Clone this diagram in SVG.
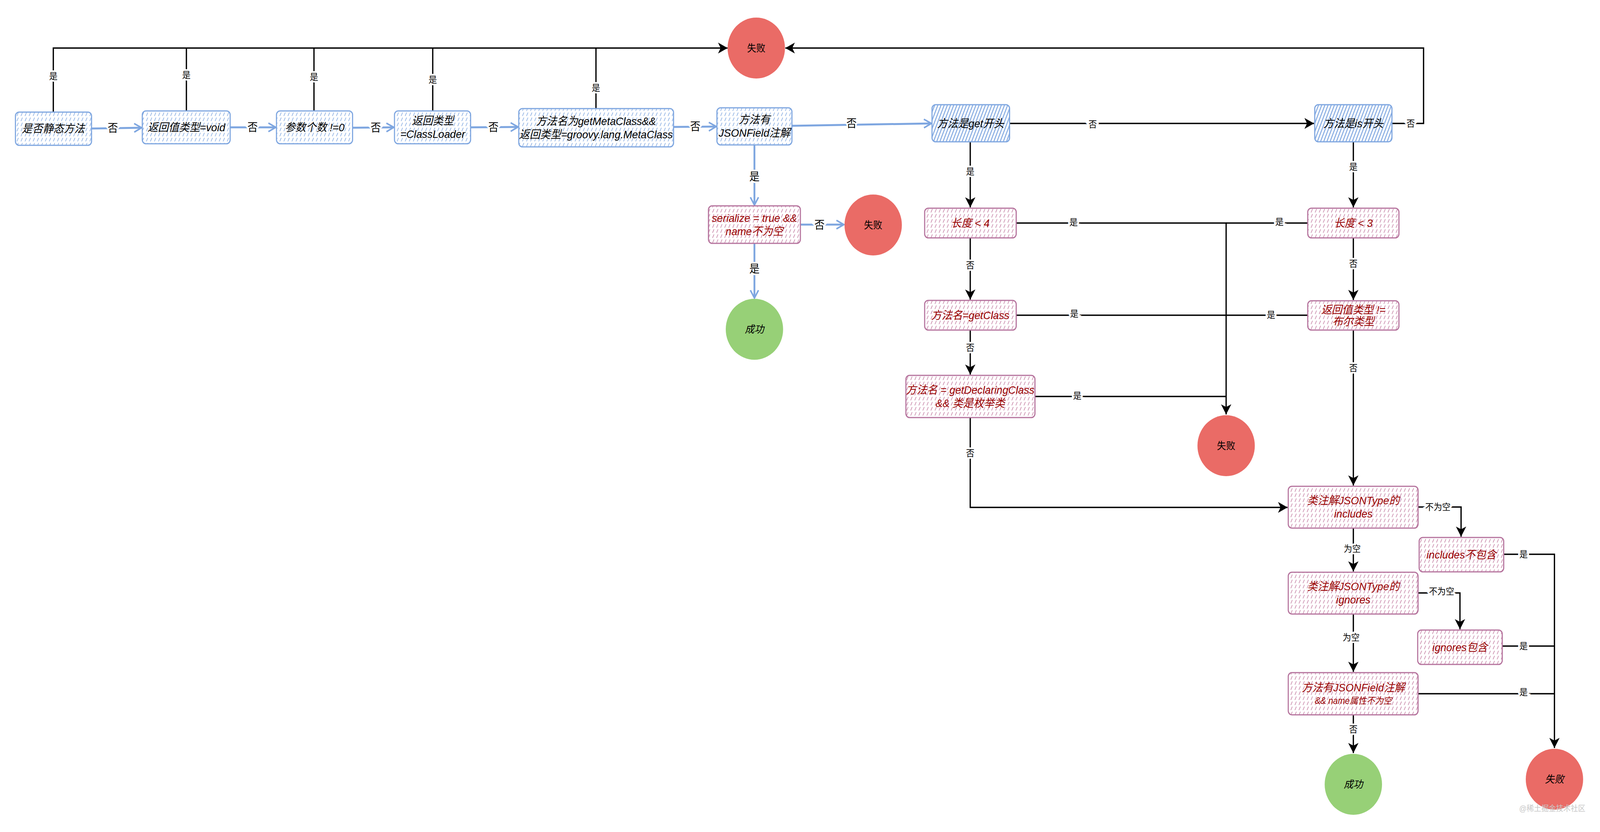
<svg xmlns="http://www.w3.org/2000/svg" width="4352" height="2130" viewBox="0 0 4352 2130">
<style>
.nb rect{fill:url(#dB);stroke:#7EA6E0;stroke-width:3}
.nh rect{fill:url(#hB);stroke:#7EA6E0;stroke-width:3}
.np rect{fill:url(#dP);stroke:#B5739D;stroke-width:3}
.t{font-family:"Liberation Sans","Noto Sans CJK SC",sans-serif;font-size:28.5px;font-style:italic;text-anchor:middle;dominant-baseline:central;fill:#000}
.tr{fill:#990000}
.tn{font-style:normal}
.lbl{font-family:"Liberation Sans","Noto Sans CJK SC",sans-serif;font-size:23px;text-anchor:middle;dominant-baseline:central;fill:#000;stroke:#fff;stroke-width:9;paint-order:stroke}
.lb{font-size:28px}
.e{fill:none;stroke:#000;stroke-width:3.5}
.eb{fill:none;stroke:#7EA6E0;stroke-width:5}
.fail{fill:#EA6B66}
.ok{fill:#97D077}
</style>
<defs>
<pattern id="dB" width="11" height="13" patternUnits="userSpaceOnUse"><path d="M2,11 L6,2" stroke="#7EA6E0" stroke-width="1.6"/></pattern>
<pattern id="dP" width="11" height="13" patternUnits="userSpaceOnUse"><path d="M2,11 L6,2" stroke="#C27BA0" stroke-width="1.6"/></pattern>
<pattern id="hB" width="8" height="8" patternUnits="userSpaceOnUse" patternTransform="rotate(22)"><line x1="2" y1="0" x2="2" y2="8" stroke="#7EA6E0" stroke-width="2.6"/></pattern>
<marker id="ak" viewBox="0 0 26 28" refX="26" refY="14" markerWidth="26" markerHeight="28" markerUnits="userSpaceOnUse" orient="auto"><path d="M0,0 L26,14 L0,28 L7,14 z" fill="#000"/></marker>
<marker id="ab" viewBox="0 0 24 26" refX="22" refY="13" markerWidth="24" markerHeight="26" markerUnits="userSpaceOnUse" orient="auto"><path d="M2,2 L22,13 L2,24" fill="none" stroke="#7EA6E0" stroke-width="4"/></marker>
</defs>
<g id="diagram" transform="scale(0.9412,1)">
<g id="connectors">
<path class="e" d="M145,287 V123 H1979" marker-end="url(#ak)"/>
<path class="e" d="M507,284 V123"/>
<path class="e" d="M854,284 V123"/>
<path class="e" d="M1177,284 V123"/>
<path class="e" d="M1621,278 V123"/>
<path class="e" d="M3786,316 H3872 V123 H2136" marker-end="url(#ak)"/>
<path class="eb" d="M249,329 L385,327" marker-end="url(#ab)"/>
<path class="eb" d="M626,326 L750,326" marker-end="url(#ab)"/>
<path class="eb" d="M959,327 L1071,326" marker-end="url(#ab)"/>
<path class="eb" d="M1280,326 L1409,325" marker-end="url(#ab)"/>
<path class="eb" d="M1832,325 L1948,324" marker-end="url(#ab)"/>
<path class="eb" d="M2154,322 L2533,316" marker-end="url(#ab)"/>
<path class="eb" d="M2052,371 V525" marker-end="url(#ab)"/>
<path class="eb" d="M2177,575 H2295" marker-end="url(#ab)"/>
<path class="eb" d="M2052,623 V763" marker-end="url(#ab)"/>
<path class="e" d="M2746,316 H3574" marker-end="url(#ak)"/>
<path class="e" d="M2639,363 V531" marker-end="url(#ak)"/>
<path class="e" d="M3681,363 V531" marker-end="url(#ak)"/>
<path class="e" d="M2639,609 V767" marker-end="url(#ak)"/>
<path class="e" d="M2639,845 V959" marker-end="url(#ak)"/>
<path class="e" d="M2764,571 H3335 V1061" marker-end="url(#ak)"/>
<path class="e" d="M3557,571 H3335"/>
<path class="e" d="M2764,807 H3335"/>
<path class="e" d="M3557,807 H3335"/>
<path class="e" d="M2815,1015 H3335"/>
<path class="e" d="M2639,1069 V1299 H3502" marker-end="url(#ak)"/>
<path class="e" d="M3681,609 V768" marker-end="url(#ak)"/>
<path class="e" d="M3681,845 V1243" marker-end="url(#ak)"/>
<path class="e" d="M3857,1298 H3974 V1374" marker-end="url(#ak)"/>
<path class="e" d="M3681,1352 V1463" marker-end="url(#ak)"/>
<path class="e" d="M3857,1518 H3971 V1611" marker-end="url(#ak)"/>
<path class="e" d="M3681,1572 V1720" marker-end="url(#ak)"/>
<path class="e" d="M3681,1830 V1928" marker-end="url(#ak)"/>
<path class="e" d="M4090,1419 H4228 V1915" marker-end="url(#ak)"/>
<path class="e" d="M4086,1654 H4228"/>
<path class="e" d="M3857,1776 H4228"/>

<text class="lbl" x="145" y="195">是</text>
<text class="lbl" x="507" y="192">是</text>
<text class="lbl" x="854" y="197">是</text>
<text class="lbl" x="1177" y="204">是</text>
<text class="lbl" x="1621" y="225">是</text>
<text class="lbl" x="3837" y="316">否</text>
<text class="lbl lb" x="307" y="328">否</text>
<text class="lbl lb" x="687" y="326">否</text>
<text class="lbl lb" x="1022" y="327">否</text>
<text class="lbl lb" x="1342" y="326">否</text>
<text class="lbl lb" x="1891" y="324">否</text>
<text class="lbl lb" x="2316" y="316">否</text>
<text class="lbl lb" x="2052" y="452">是</text>
<text class="lbl lb" x="2229" y="576">否</text>
<text class="lbl lb" x="2052" y="688">是</text>
<text class="lbl" x="2972" y="318">否</text>
<text class="lbl" x="2639" y="439">是</text>
<text class="lbl" x="3681" y="427">是</text>
<text class="lbl" x="2639" y="679">否</text>
<text class="lbl" x="2639" y="890">否</text>
<text class="lbl" x="2920" y="569">是</text>
<text class="lbl" x="3480" y="568">是</text>
<text class="lbl" x="2922" y="803">是</text>
<text class="lbl" x="3457" y="806">是</text>
<text class="lbl" x="2930" y="1013">是</text>
<text class="lbl" x="2639" y="1160">否</text>
<text class="lbl" x="3681" y="675">否</text>
<text class="lbl" x="3681" y="942">否</text>
<text class="lbl" x="3911" y="1298">不为空</text>
<text class="lbl" x="3678" y="1405">为空</text>
<text class="lbl" x="3921" y="1514">不为空</text>
<text class="lbl" x="3675" y="1632">为空</text>
<text class="lbl" x="3681" y="1867">否</text>
<text class="lbl" x="4144" y="1419">是</text>
<text class="lbl" x="4144" y="1654">是</text>
<text class="lbl" x="4144" y="1772">是</text>
</g>

<g id="n1" class="nb"><rect x="42" y="287" width="207" height="85" rx="10"/><text class="t" x="145" y="329">是否静态方法</text></g>
<g id="n2" class="nb"><rect x="387" y="284" width="239" height="84" rx="10"/><text class="t" x="507" y="326">返回值类型=void</text></g>
<g id="n3" class="nb"><rect x="752" y="284" width="207" height="84" rx="10"/><text class="t" x="856" y="326">参数个数 !=0</text></g>
<g id="n4" class="nb"><rect x="1073" y="284" width="207" height="84" rx="10"/><text class="t" x="1177" y="326"><tspan x="1177" dy="-17">返回类型</tspan><tspan x="1177" dy="34">=ClassLoader</tspan></text></g>
<g id="n5" class="nb"><rect x="1411" y="278" width="421" height="98" rx="10"/><text class="t" x="1621" y="327"><tspan x="1621" dy="-17">方法名为getMetaClass&amp;&amp;</tspan><tspan x="1621" dy="34">返回类型=groovy.lang.MetaClass</tspan></text></g>
<g id="n6" class="nb"><rect x="1950" y="276" width="204" height="95" rx="10"/><text class="t" x="2052" y="323"><tspan x="2052" dy="-17">方法有</tspan><tspan x="2052" dy="34">JSONField注解</tspan></text></g>
<g id="nGet" class="nh"><rect x="2535" y="268" width="211" height="95" rx="10"/><text class="t" x="2640" y="316">方法是get开头</text></g>
<g id="nIs" class="nh"><rect x="3576" y="268" width="210" height="95" rx="10"/><text class="t" x="3681" y="316">方法是is开头</text></g>
<g id="nSer" class="np"><rect x="1927" y="527" width="250" height="96" rx="10"/><text class="t tr" x="2052" y="575"><tspan x="2052" dy="-17">serialize = true &amp;&amp;</tspan><tspan x="2052" dy="34">name不为空</tspan></text></g>
<g id="fail1"><circle class="fail" cx="2057" cy="123" r="78"/><text class="t tn" x="2057" y="123" style="font-size:25px">失败</text></g>
<g id="fail2"><circle class="fail" cx="2375" cy="576" r="78"/><text class="t tn" x="2375" y="576" style="font-size:25px">失败</text></g>
<g id="ok1"><circle class="ok" cx="2052" cy="843" r="78"/><text class="t" x="2052" y="843" style="font-size:26px">成功</text></g>
<g id="nLen4" class="np"><rect x="2515" y="533" width="249" height="76" rx="10"/><text class="t tr" x="2639" y="571">长度 &lt; 4</text></g>
<g id="nGetClass" class="np"><rect x="2515" y="769" width="249" height="76" rx="10"/><text class="t tr" x="2639" y="807">方法名=getClass</text></g>
<g id="nDecl" class="np"><rect x="2464" y="961" width="351" height="108" rx="10"/><text class="t tr" x="2639" y="1015"><tspan x="2639" dy="-17">方法名 = getDeclaringClass</tspan><tspan x="2639" dy="34">&amp;&amp; 类是枚举类</tspan></text></g>
<g id="fail3"><circle class="fail" cx="3335" cy="1141" r="78"/><text class="t tn" x="3335" y="1141" style="font-size:25px">失败</text></g>
<g id="nLen3" class="np"><rect x="3557" y="533" width="248" height="76" rx="10"/><text class="t tr" x="3681" y="571">长度 &lt; 3</text></g>
<g id="nBool" class="np"><rect x="3557" y="770" width="248" height="75" rx="10"/><text class="t tr" x="3681" y="808"><tspan x="3681" dy="-15">返回值类型 !=</tspan><tspan x="3681" dy="30">布尔类型</tspan></text></g>
<g id="nIncl" class="np"><rect x="3504" y="1245" width="353" height="107" rx="10"/><text class="t tr" x="3681" y="1298"><tspan x="3681" dy="-17">类注解JSONType的</tspan><tspan x="3681" dy="34">includes</tspan></text></g>
<g id="nInclNot" class="np"><rect x="3860" y="1376" width="230" height="88" rx="10"/><text class="t tr" x="3975" y="1420">includes不包含</text></g>
<g id="nIgn" class="np"><rect x="3504" y="1465" width="353" height="107" rx="10"/><text class="t tr" x="3681" y="1518"><tspan x="3681" dy="-17">类注解JSONType的</tspan><tspan x="3681" dy="34">ignores</tspan></text></g>
<g id="nIgnHas" class="np"><rect x="3856" y="1613" width="230" height="88" rx="10"/><text class="t tr" x="3971" y="1657">ignores包含</text></g>
<g id="nJF" class="np"><rect x="3504" y="1722" width="353" height="108" rx="10"/><text class="t tr" x="3681" y="1776"><tspan x="3681" dy="-16">方法有JSONField注解</tspan><tspan x="3681" dy="34" style="font-size:23px">&amp;&amp; name属性不为空</tspan></text></g>
<g id="ok2"><circle class="ok" cx="3681" cy="2008" r="78"/><text class="t" x="3681" y="2008" style="font-size:26px">成功</text></g>
<g id="fail4"><circle class="fail" cx="4228" cy="1995" r="78"/><text class="t" x="4228" y="1995" style="font-size:26px">失败</text></g>
<text x="4222" y="2070" style="font-family:'Liberation Sans','Noto Sans CJK SC',sans-serif;font-size:20px;fill:#c8c8c8;text-anchor:middle;dominant-baseline:central">@稀土掘金技术社区</text>
</g>
</svg>
